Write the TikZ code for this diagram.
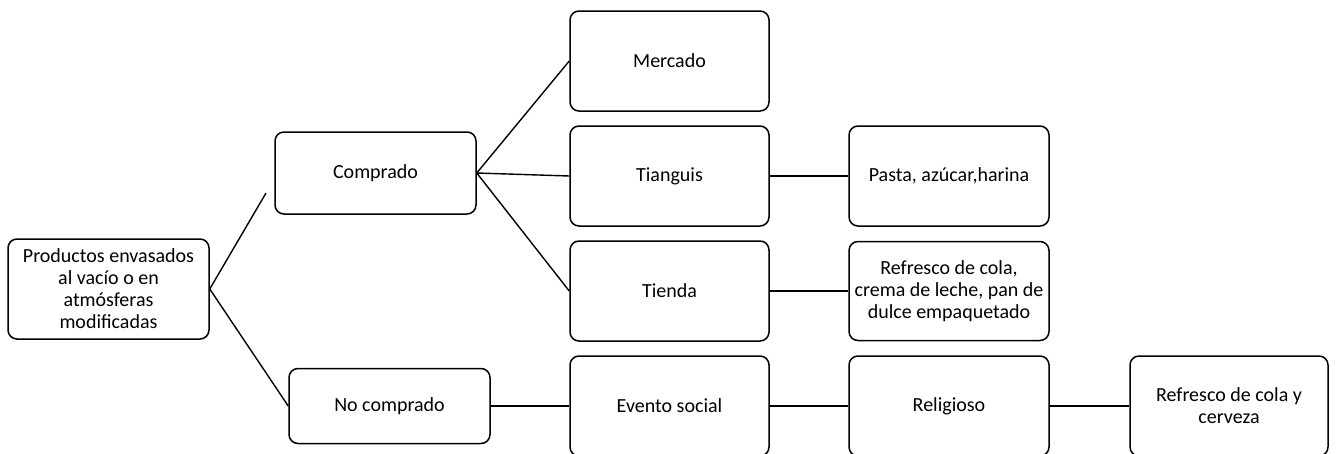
\documentclass[tikz,border=0pt]{standalone}
\usepackage{fontspec}
\setmainfont{Carlito}
\begin{document}
\begin{tikzpicture}[x=1pt,y=-1pt,
  box/.style={draw=black, line width=1.5pt, rounded corners=9pt, fill=white,
    align=center, inner sep=1pt, font=\fontsize{20}{22}\selectfont},
  conn/.style={draw=black, line width=1.4pt}]
\useasboundingbox (0,0) rectangle (1337,453);
\node[box, minimum width=201pt, minimum height=100pt] (root) at (108.5,289) {Productos envasados\\al vacío o en\\atmósferas\\modificadas};
\node[box, minimum width=201pt, minimum height=82pt] (comp) at (375.5,173) {Comprado};
\node[box, minimum width=201pt, minimum height=75pt] (nocomp) at (389.5,406) {No comprado};
\node[box, minimum width=199pt, minimum height=100pt] (merc) at (669.5,61) {Mercado};
\node[box, minimum width=199pt, minimum height=100pt] (tiang) at (669.5,176) {Tianguis};
\node[box, minimum width=199pt, minimum height=100pt] (tienda) at (669.5,291) {Tienda};
\node[box, minimum width=200pt, minimum height=100pt] (pasta) at (949,176) {Pasta, azúcar,harina};
\node[box, minimum width=200pt, minimum height=99pt] (refr) at (949,291) {Refresco de cola,\\crema de leche, pan de\\dulce empaquetado};
\node[box, minimum width=199pt, minimum height=100pt] (evento) at (669.5,406) {Evento social};
\node[box, minimum width=200pt, minimum height=100pt] (relig) at (949,406) {Religioso};
\node[box, minimum width=198pt, minimum height=100pt] (final) at (1229,406) {Refresco de cola y\\cerveza};
\coordinate (free) at (266,193);
\draw[conn] (free) -- (root.east) -- (nocomp.west);
\draw[conn] (merc.west) -- (comp.east) -- (tienda.west);
\draw[conn] (comp.east) -- (tiang.west);
\draw[conn] (tiang.east) -- (pasta.west);
\draw[conn] (tienda.east) -- (refr.west);
\draw[conn] (nocomp.east) -- (evento.west);
\draw[conn] (evento.east) -- (relig.west);
\draw[conn] (relig.east) -- (final.west);
\end{tikzpicture}
\end{document}
